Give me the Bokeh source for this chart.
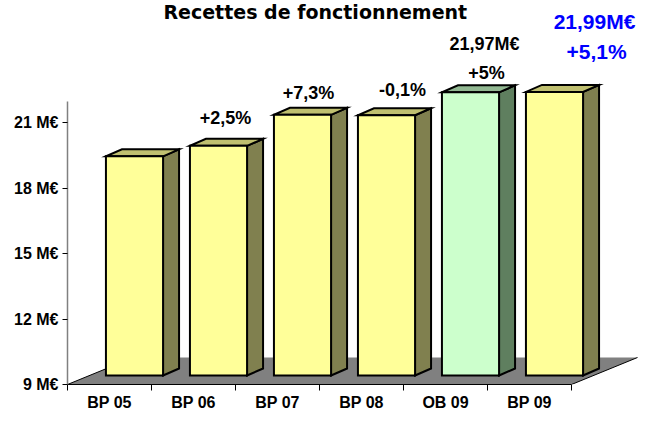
from bokeh.plotting import figure
from bokeh.models import Range1d, FixedTicker, Label, ColumnDataSource
from bokeh.embed import file_html
from bokeh.resources import INLINE
from bokeh.core.properties import value

# ---------------- data ----------------
categories = ["BP 05", "BP 06", "BP 07", "BP 08", "OB 09", "BP 09"]
values = [19.04, 19.52, 20.94, 20.92, 21.97, 21.99]
pct_labels = ["", "+2,5%", "+7,3%", "-0,1%", "+5%", "+5,1%"]
value_labels = ["", "", "", "", "21,97M€", "21,99M€"]
ytick_values = [9, 12, 15, 18, 21]
ytick_labels = ["9 M€", "12 M€", "15 M€", "18 M€", "21 M€"]
title_text = "Recettes de fonctionnement"

# ---------------- layout / style ----------------
FONT = "Liberation Sans"
PX_X = 84.0          # pixels per category
PX_Y = 21.83         # pixels per M€
BASE = 9
FIG_W, FIG_H = 638, 414
BORDER_L, BORDER_T, BORDER_B = 67, 2, 30
FRAME_W = FIG_W - BORDER_L
FRAME_H = FIG_H - BORDER_T - BORDER_B
n = len(categories)

FDX, FDY = 66 / PX_X, 27 / PX_Y      # floor depth
BDX, BDY = 25 / PX_X, 9 / PX_Y       # bar front offset into the floor
TDX, TDY = 16 / PX_X, 7 / PX_Y       # bar depth
W = 0.68
GAP = (1 - W) / 2

FRONT = ["#FFFF99", "#FFFF99", "#FFFF99", "#FFFF99", "#CCFFCC", "#FFFF99"]
SIDE = ["#80804F", "#80804F", "#80804F", "#80804F", "#5F7F5F", "#80804F"]
TOP = ["#C0C070", "#C0C070", "#C0C070", "#C0C070", "#92B892", "#C0C070"]
LBL_COL = ["black", "black", "black", "black", "black", "#0000FF"]
LBL_SIZE = ["18px", "18px", "18px", "18px", "18px", "21px"]
pct_dx = [0, -1, -2, 8, 8, 34]
pct_dy = [0, -21, -15, -18, -12, -33]
val_dx = [0, 0, 0, 0, 6, 32]
val_dy = [0, 0, 0, 0, -41, -63]

p = figure(width=FIG_W, height=FIG_H, output_backend="svg", toolbar_location=None,
           x_range=Range1d(0, FRAME_W / PX_X), y_range=Range1d(BASE, BASE + FRAME_H / PX_Y),
           min_border_left=BORDER_L, min_border_right=0, min_border_top=BORDER_T,
           min_border_bottom=BORDER_B)
p.outline_line_color = None
p.xgrid.visible = False
p.ygrid.visible = False
p.background_fill_color = "white"

# floor
p.patch([0, n, n + FDX, FDX], [BASE, BASE, BASE + FDY, BASE + FDY],
        fill_color="#808080", line_color=None)
p.multi_line([[0, FDX], [n, n + FDX]], [[BASE, BASE + FDY], [BASE, BASE + FDY]],
             line_color="black", line_width=1)

# bars
xl = [i + GAP + BDX for i in range(n)]
xr = [x + W for x in xl]
yb = [BASE + BDY] * n
yt = [v + BDY for v in values]

side_xs = [[r, r + TDX, r + TDX, r] for r in xr]
side_ys = [[b, b + TDY, t + TDY, t] for b, t in zip(yb, yt)]
top_xs = [[l, r, r + TDX, l + TDX] for l, r in zip(xl, xr)]
top_ys = [[t, t, t + TDY, t + TDY] for t in yt]

p.patches(side_xs, side_ys, fill_color=SIDE, line_color="black", line_width=2,
          line_join="miter")
p.patches(top_xs, top_ys, fill_color=TOP, line_color="black", line_width=2,
          line_join="miter")
p.quad(left=xl, right=xr, bottom=yb, top=yt, fill_color=FRONT, line_color="black",
       line_width=2, line_join="miter")

# labels
lx = [l + W / 2 + TDX / 2 for l in xl]
ly = [t + TDY for t in yt]
src = ColumnDataSource(dict(x=lx, y=ly, pct=pct_labels, val=value_labels,
                            pdx=pct_dx, pdy=pct_dy, vdx=val_dx, vdy=val_dy,
                            col=LBL_COL, size=LBL_SIZE))
p.text(x="x", y="y", text="pct", x_offset="pdx", y_offset="pdy", source=src,
       text_color="col", text_font_size="size", text_font=value(FONT),
       text_font_style="bold", text_align="center", text_baseline="middle")
p.text(x="x", y="y", text="val", x_offset="vdx", y_offset="vdy", source=src,
       text_color="col", text_font_size="size", text_font=value(FONT),
       text_font_style="bold", text_align="center", text_baseline="middle")

# title
p.add_layout(Label(x=2.95, y=BASE + (FRAME_H - 9) / PX_Y, text=title_text,
                   text_font="DejaVu Sans", text_font_style="bold", text_font_size="19px",
                   text_align="center", text_baseline="middle", text_color="black"))

# x axis
xa = p.xaxis[0]
xa.ticker = FixedTicker(ticks=[i + 0.5 for i in range(n)],
                        minor_ticks=list(range(n + 1)))
xa.major_label_overrides = {i + 0.5: c for i, c in enumerate(categories)}
xa.bounds = (0, n)
xa.axis_line_color = "black"
xa.axis_line_width = 1.2
xa.major_tick_line_color = None
xa.major_tick_out = 0
xa.major_tick_in = 0
xa.minor_tick_line_color = "black"
xa.minor_tick_out = 6
xa.minor_tick_in = 0
xa.major_label_standoff = 3
xa.major_label_text_font = FONT
xa.major_label_text_font_style = "bold"
xa.major_label_text_font_size = "16px"
xa.major_label_text_color = "black"

# y axis
ya = p.yaxis[0]
ya.ticker = FixedTicker(ticks=ytick_values, minor_ticks=[])
ya.major_label_overrides = {v: s for v, s in zip(ytick_values, ytick_labels)}
ya.bounds = (BASE, BASE + 283 / PX_Y)
ya.axis_line_color = "#808080"
ya.axis_line_width = 1.5
ya.major_tick_line_color = "black"
ya.major_tick_out = 5
ya.major_tick_in = 0
ya.major_label_standoff = 4
ya.major_label_text_font = FONT
ya.major_label_text_font_style = "bold"
ya.major_label_text_font_size = "16px"
ya.major_label_text_color = "black"

open("out.html", "w").write(file_html(p, INLINE))
